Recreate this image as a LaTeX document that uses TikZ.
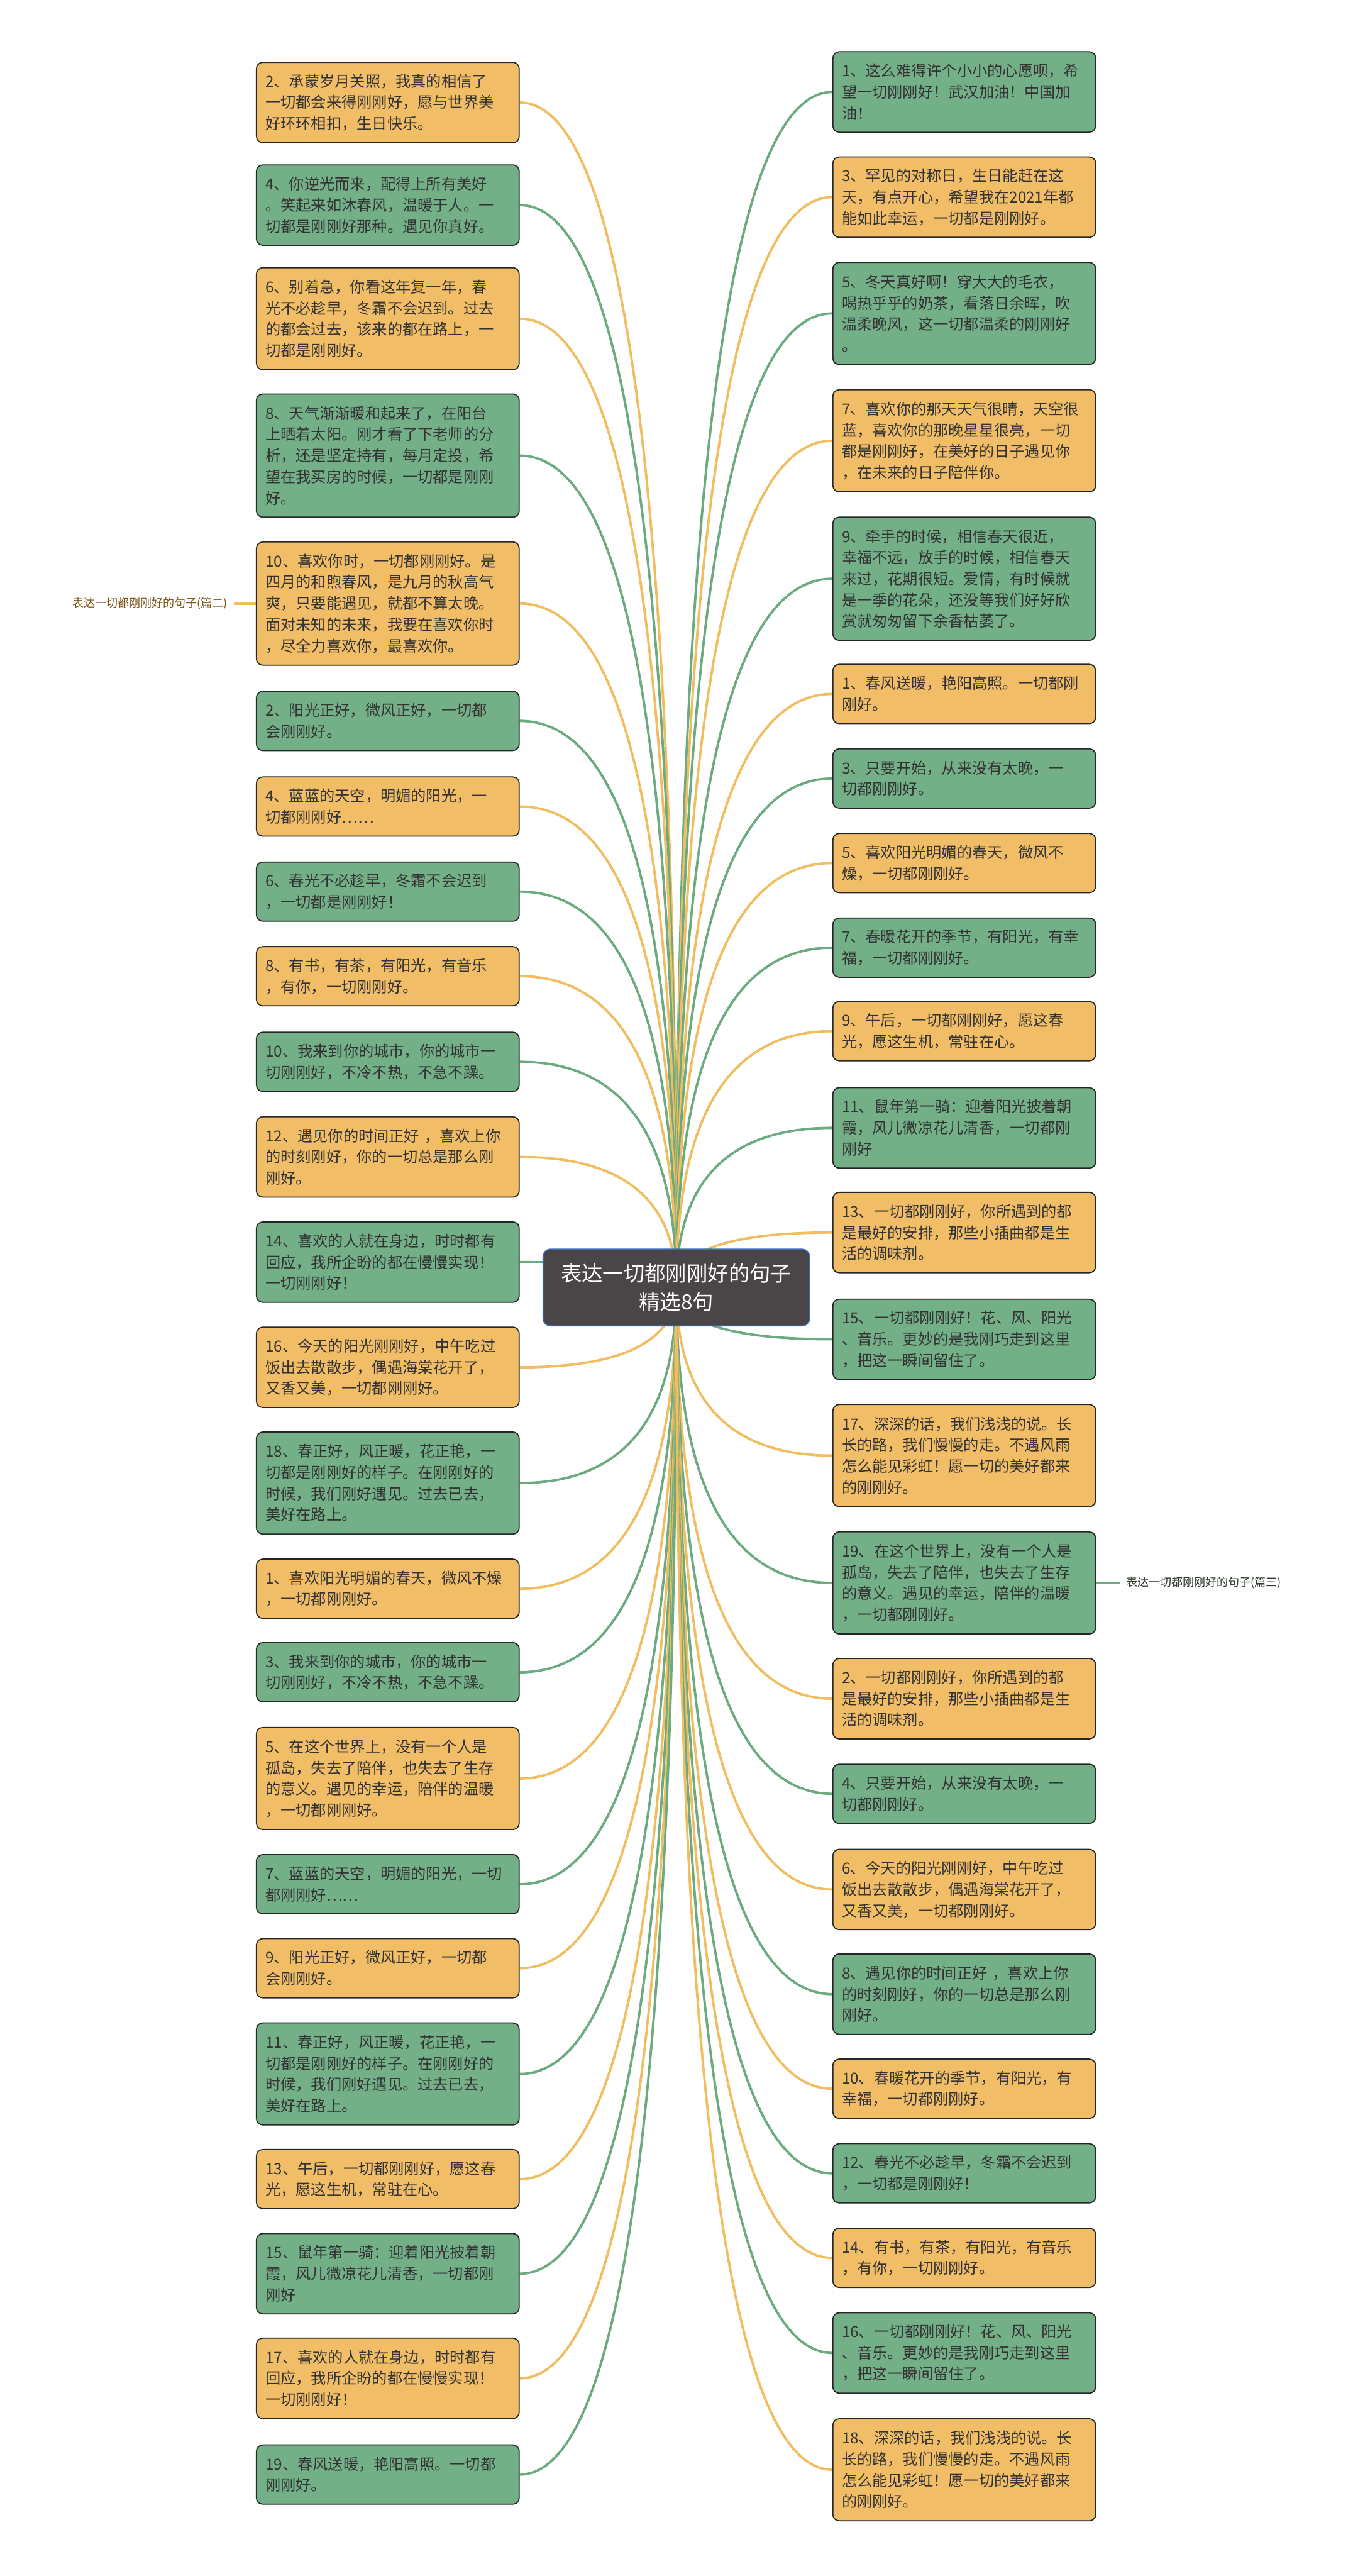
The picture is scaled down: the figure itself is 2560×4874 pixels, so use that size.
\documentclass[tikz,border=0pt]{standalone}
\usepackage{fontspec}
\newfontfamily\cjk{Noto Sans CJK SC}
\usetikzlibrary{calc,backgrounds}

\definecolor{leafo}{HTML}{F2BD67}
\definecolor{leafg}{HTML}{73B088}
\definecolor{lineo}{HTML}{F0BD60}
\definecolor{lineg}{HTML}{6CAB82}
\definecolor{rootfill}{HTML}{4A4546}
\definecolor{rootedge}{HTML}{3B6BB5}
\definecolor{sectbrown}{HTML}{7A5516}
\definecolor{sectdark}{HTML}{2F3A2C}

\tikzset{
  leaf/.style={draw=black!85, line width=0.6pt, rounded corners=3.4pt,
    text width=4.63cm, inner xsep=0.17cm, inner ysep=0pt, align=left,
    text=black!80, font=\cjk\fontsize{8.2}{11.4}\selectfont},
  oleaf/.style={leaf, fill=leafo},
  gleaf/.style={leaf, fill=leafg},
  two/.style={minimum height=1.12cm},
  three/.style={minimum height=1.52cm},
  four/.style={minimum height=1.93cm},
  five/.style={minimum height=2.33cm},
  root/.style={fill=rootfill, draw=rootedge, line width=0.6pt, rounded corners=4pt,
    minimum width=5.04cm, minimum height=1.45cm, align=center, text=white,
    font=\cjk\fontsize{11.3}{15}\selectfont},
  sect/.style={inner xsep=0.12cm, inner ysep=0pt, font=\cjk\fontsize{6.1}{7}\selectfont},
  oline/.style={draw=lineo, line width=1.3pt},
  gline/.style={draw=lineg, line width=1.3pt},
  branch/.style={to path={.. controls ($(\tikztostart)!0.667!(\tikztostart |- \tikztotarget)$)
    and ($(\tikztotarget)!0.667!(\tikztostart |- \tikztotarget)$) .. (\tikztotarget)}}
}

\begin{document}
\begin{tikzpicture}[x=0.01cm, y=-0.01cm]
\useasboundingbox (0,0) rectangle (2560,4874);

% centre
\node[root] (root) at (1280,2436) {表达一切都刚刚好的句子\\精选8句};

% left column
\node[oleaf,three] (l1) at (734,194) {2、承蒙岁月关照，我真的相信了\\一切都会来得刚刚好，愿与世界美\\好环环相扣，生日快乐。};
\node[gleaf,three] (l2) at (734,388) {4、你逆光而来，配得上所有美好\\。笑起来如沐春风，温暖于人。一\\切都是刚刚好那种。遇见你真好。};
\node[oleaf,four] (l3) at (734,603) {6、别着急，你看这年复一年，春\\光不必趁早，冬霜不会迟到。过去\\的都会过去，该来的都在路上，一\\切都是刚刚好。};
\node[gleaf,five] (l4) at (734,862) {8、天气渐渐暖和起来了，在阳台\\上晒着太阳。刚才看了下老师的分\\析，还是坚定持有，每月定投，希\\望在我买房的时候，一切都是刚刚\\好。};
\node[oleaf,five] (l5) at (734,1142) {10、喜欢你时，一切都刚刚好。是\\四月的和煦春风，是九月的秋高气\\爽，只要能遇见，就都不算太晚。\\面对未知的未来，我要在喜欢你时\\，尽全力喜欢你，最喜欢你。};
\node[gleaf,two] (l6) at (734,1364) {2、阳光正好，微风正好，一切都\\会刚刚好。};
\node[oleaf,two] (l7) at (734,1526) {4、蓝蓝的天空，明媚的阳光，一\\切都刚刚好……};
\node[gleaf,two] (l8) at (734,1687) {6、春光不必趁早，冬霜不会迟到\\，一切都是刚刚好！};
\node[oleaf,two] (l9) at (734,1847) {8、有书，有茶，有阳光，有音乐\\，有你，一切刚刚好。};
\node[gleaf,two] (l10) at (734,2009) {10、我来到你的城市，你的城市一\\切刚刚好，不冷不热，不急不躁。};
\node[oleaf,three] (l11) at (734,2189) {12、遇见你的时间正好 ，喜欢上你\\的时刻刚好，你的一切总是那么刚\\刚好。};
\node[gleaf,three] (l12) at (734,2388) {14、喜欢的人就在身边，时时都有\\回应，我所企盼的都在慢慢实现！\\一切刚刚好！};
\node[oleaf,three] (l13) at (734,2587) {16、今天的阳光刚刚好，中午吃过\\饭出去散散步，偶遇海棠花开了，\\又香又美，一切都刚刚好。};
\node[gleaf,four] (l14) at (734,2806) {18、春正好，风正暖，花正艳，一\\切都是刚刚好的样子。在刚刚好的\\时候，我们刚好遇见。过去已去，\\美好在路上。};
\node[oleaf,two] (l15) at (734,3006) {1、喜欢阳光明媚的春天，微风不燥\\，一切都刚刚好。};
\node[gleaf,two] (l16) at (734,3164) {3、我来到你的城市，你的城市一\\切刚刚好，不冷不热，不急不躁。};
\node[oleaf,four] (l17) at (734,3365) {5、在这个世界上，没有一个人是\\孤岛，失去了陪伴，也失去了生存\\的意义。遇见的幸运，陪伴的温暖\\，一切都刚刚好。};
\node[gleaf,two] (l18) at (734,3565) {7、蓝蓝的天空，明媚的阳光，一切\\都刚刚好……};
\node[oleaf,two] (l19) at (734,3724) {9、阳光正好，微风正好，一切都\\会刚刚好。};
\node[gleaf,four] (l20) at (734,3924) {11、春正好，风正暖，花正艳，一\\切都是刚刚好的样子。在刚刚好的\\时候，我们刚好遇见。过去已去，\\美好在路上。};
\node[oleaf,two] (l21) at (734,4123) {13、午后，一切都刚刚好，愿这春\\光，愿这生机，常驻在心。};
\node[gleaf,three] (l22) at (734,4302) {15、鼠年第一骑：迎着阳光披着朝\\霞，风儿微凉花儿清香，一切都刚\\刚好};
\node[oleaf,three] (l23) at (734,4500) {17、喜欢的人就在身边，时时都有\\回应，我所企盼的都在慢慢实现！\\一切刚刚好！};
\node[gleaf,two] (l24) at (734,4682) {19、春风送暖，艳阳高照。一切都\\刚刚好。};

% right column
\node[gleaf,three] (r1) at (1825,174) {1、这么难得许个小小的心愿呗，希\\望一切刚刚好！武汉加油！中国加\\油！};
\node[oleaf,three] (r2) at (1825,373) {3、罕见的对称日，生日能赶在这\\天，有点开心，希望我在2021年都\\能如此幸运，一切都是刚刚好。};
\node[gleaf,four] (r3) at (1825,593) {5、冬天真好啊！穿大大的毛衣，\\喝热乎乎的奶茶，看落日余晖，吹\\温柔晚风，这一切都温柔的刚刚好\\。};
\node[oleaf,four] (r4) at (1825,834) {7、喜欢你的那天天气很晴，天空很\\蓝，喜欢你的那晚星星很亮，一切\\都是刚刚好，在美好的日子遇见你\\，在未来的日子陪伴你。};
\node[gleaf,five] (r5) at (1825,1095) {9、牵手的时候，相信春天很近，\\幸福不远，放手的时候，相信春天\\来过，花期很短。爱情，有时候就\\是一季的花朵，还没等我们好好欣\\赏就匆匆留下余香枯萎了。};
\node[oleaf,two] (r6) at (1825,1313) {1、春风送暖，艳阳高照。一切都刚\\刚好。};
\node[gleaf,two] (r7) at (1825,1473) {3、只要开始，从来没有太晚，一\\切都刚刚好。};
\node[oleaf,two] (r8) at (1825,1633) {5、喜欢阳光明媚的春天，微风不\\燥，一切都刚刚好。};
\node[gleaf,two] (r9) at (1825,1793) {7、春暖花开的季节，有阳光，有幸\\福，一切都刚刚好。};
\node[oleaf,two] (r10) at (1825,1951) {9、午后，一切都刚刚好，愿这春\\光，愿这生机，常驻在心。};
\node[gleaf,three] (r11) at (1825,2134) {11、鼠年第一骑：迎着阳光披着朝\\霞，风儿微凉花儿清香，一切都刚\\刚好};
\node[oleaf,three] (r12) at (1825,2332) {13、一切都刚刚好，你所遇到的都\\是最好的安排，那些小插曲都是生\\活的调味剂。};
\node[gleaf,three] (r13) at (1825,2534) {15、一切都刚刚好！花、风、阳光\\、音乐。更妙的是我刚巧走到这里\\，把这一瞬间留住了。};
\node[oleaf,four] (r14) at (1825,2754) {17、深深的话，我们浅浅的说。长\\长的路，我们慢慢的走。不遇风雨\\怎么能见彩虹！愿一切的美好都来\\的刚刚好。};
\node[gleaf,four] (r15) at (1825,2995) {19、在这个世界上，没有一个人是\\孤岛，失去了陪伴，也失去了生存\\的意义。遇见的幸运，陪伴的温暖\\，一切都刚刚好。};
\node[oleaf,three] (r16) at (1825,3214) {2、一切都刚刚好，你所遇到的都\\是最好的安排，那些小插曲都是生\\活的调味剂。};
\node[gleaf,two] (r17) at (1825,3394) {4、只要开始，从来没有太晚，一\\切都刚刚好。};
\node[oleaf,three] (r18) at (1825,3575) {6、今天的阳光刚刚好，中午吃过\\饭出去散散步，偶遇海棠花开了，\\又香又美，一切都刚刚好。};
\node[gleaf,three] (r19) at (1825,3773) {8、遇见你的时间正好 ，喜欢上你\\的时刻刚好，你的一切总是那么刚\\刚好。};
\node[oleaf,two] (r20) at (1825,3952) {10、春暖花开的季节，有阳光，有\\幸福，一切都刚刚好。};
\node[gleaf,two] (r21) at (1825,4112) {12、春光不必趁早，冬霜不会迟到\\，一切都是刚刚好！};
\node[oleaf,two] (r22) at (1825,4272) {14、有书，有茶，有阳光，有音乐\\，有你，一切刚刚好。};
\node[gleaf,three] (r23) at (1825,4452) {16、一切都刚刚好！花、风、阳光\\、音乐。更妙的是我刚巧走到这里\\，把这一瞬间留住了。};
\node[oleaf,four] (r24) at (1825,4673) {18、深深的话，我们浅浅的说。长\\长的路，我们慢慢的走。不遇风雨\\怎么能见彩虹！愿一切的美好都来\\的刚刚好。};

% section labels
\node[sect, anchor=east, text=sectbrown] (part2) at (443,1142) {表达一切都刚刚好的句子(篇二)};
\node[sect, anchor=west, text=sectdark] (part3) at (2119,2995) {表达一切都刚刚好的句子(篇三)};

\begin{pgfonlayer}{background}
\fill[white] (0,0) rectangle (2560,4874);
% left branches
\draw[oline] (root.center) to[branch] (l1.east);
\draw[gline] (root.center) to[branch] (l2.east);
\draw[oline] (root.center) to[branch] (l3.east);
\draw[gline] (root.center) to[branch] (l4.east);
\draw[oline] (root.center) to[branch] (l5.east);
\draw[gline] (root.center) to[branch] (l6.east);
\draw[oline] (root.center) to[branch] (l7.east);
\draw[gline] (root.center) to[branch] (l8.east);
\draw[oline] (root.center) to[branch] (l9.east);
\draw[gline] (root.center) to[branch] (l10.east);
\draw[oline] (root.center) to[branch] (l11.east);
\draw[gline] (root.center) to[branch] (l12.east);
\draw[oline] (root.center) to[branch] (l13.east);
\draw[gline] (root.center) to[branch] (l14.east);
\draw[oline] (root.center) to[branch] (l15.east);
\draw[gline] (root.center) to[branch] (l16.east);
\draw[oline] (root.center) to[branch] (l17.east);
\draw[gline] (root.center) to[branch] (l18.east);
\draw[oline] (root.center) to[branch] (l19.east);
\draw[gline] (root.center) to[branch] (l20.east);
\draw[oline] (root.center) to[branch] (l21.east);
\draw[gline] (root.center) to[branch] (l22.east);
\draw[oline] (root.center) to[branch] (l23.east);
\draw[gline] (root.center) to[branch] (l24.east);
% right branches
\draw[gline] (root.center) to[branch] (r1.west);
\draw[oline] (root.center) to[branch] (r2.west);
\draw[gline] (root.center) to[branch] (r3.west);
\draw[oline] (root.center) to[branch] (r4.west);
\draw[gline] (root.center) to[branch] (r5.west);
\draw[oline] (root.center) to[branch] (r6.west);
\draw[gline] (root.center) to[branch] (r7.west);
\draw[oline] (root.center) to[branch] (r8.west);
\draw[gline] (root.center) to[branch] (r9.west);
\draw[oline] (root.center) to[branch] (r10.west);
\draw[gline] (root.center) to[branch] (r11.west);
\draw[oline] (root.center) to[branch] (r12.west);
\draw[gline] (root.center) to[branch] (r13.west);
\draw[oline] (root.center) to[branch] (r14.west);
\draw[gline] (root.center) to[branch] (r15.west);
\draw[oline] (root.center) to[branch] (r16.west);
\draw[gline] (root.center) to[branch] (r17.west);
\draw[oline] (root.center) to[branch] (r18.west);
\draw[gline] (root.center) to[branch] (r19.west);
\draw[oline] (root.center) to[branch] (r20.west);
\draw[gline] (root.center) to[branch] (r21.west);
\draw[oline] (root.center) to[branch] (r22.west);
\draw[gline] (root.center) to[branch] (r23.west);
\draw[oline] (root.center) to[branch] (r24.west);
% section links
\draw[oline] (l5.west) -- (part2.east);
\draw[gline] (r15.east) -- (part3.west);
\end{pgfonlayer}
\end{tikzpicture}
\end{document}
